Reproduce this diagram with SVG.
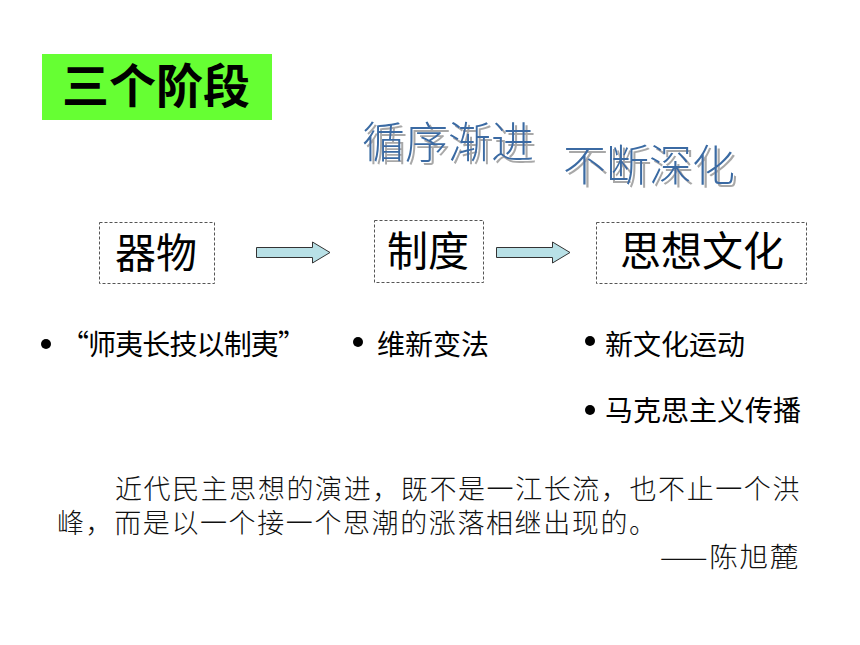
<svg xmlns="http://www.w3.org/2000/svg" width="860" height="645" viewBox="0 0 860 645">
<defs>
<style>
.cjk{font-family:"Noto Sans CJK SC","Noto Sans",sans-serif;}
.box{fill:none;stroke:#555;stroke-width:1;stroke-dasharray:3,2;}
.lbl{font-size:41px;fill:#000;}
.bul{font-size:28px;fill:#000;}
.quote{font-size:27px;fill:#111;font-weight:300;letter-spacing:1.6px;}
.blue{font-size:43px;fill:#3A6BA3;font-weight:300;filter:url(#shadow);}
.arrow{fill:#B8E0E6;stroke:#333;stroke-width:1;}
.dot{fill:#000;}
</style>
<filter id="shadow" x="-10%" y="-20%" width="130%" height="150%">
<feFlood flood-color="#A8A8A8" result="g"/>
<feComposite in="g" in2="SourceAlpha" operator="in" result="s"/>
<feOffset in="s" dx="3" dy="3" result="o"/>
<feMerge><feMergeNode in="o"/><feMergeNode in="SourceGraphic"/></feMerge>
</filter>
</defs>
<rect width="860" height="645" fill="#fff"/>

<g id="title">
<rect x="42" y="54" width="230" height="66" fill="#66FF33"/>
<text class="cjk" x="62" y="103" font-size="47" font-weight="bold" fill="#000">三个阶段</text>
</g>

<g id="slogan1">
<text class="cjk blue" x="362" y="158">循序渐进</text>
</g>
<g id="slogan2">
<text class="cjk blue" x="563" y="181">不断深化</text>
</g>

<g id="node-qiwu">
<rect class="box" x="99.5" y="222.5" width="115" height="61"/>
<text class="cjk lbl" x="115" y="268">器物</text>
</g>
<g id="node-zhidu">
<rect class="box" x="374.5" y="220.5" width="109" height="62"/>
<text class="cjk lbl" x="387" y="266">制度</text>
</g>
<g id="node-sixiang">
<rect class="box" x="596.5" y="222.5" width="210" height="61"/>
<text class="cjk lbl" x="620" y="266">思想文化</text>
</g>

<g id="connectors">
<path class="arrow" d="M256.5,247.5 H312.5 V242 L330,252.5 L312.5,263 V257.5 H256.5 Z"/>
<path class="arrow" d="M496.5,247.5 H552.5 V242 L570,252.5 L552.5,263 V257.5 H496.5 Z"/>
</g>

<g id="bullet1">
<circle class="dot" cx="46" cy="344" r="5"/>
<text class="cjk bul" x="61" y="355" textLength="245" lengthAdjust="spacing">“师夷长技以制夷”</text>
</g>
<g id="bullet2">
<circle class="dot" cx="358" cy="342" r="5"/>
<text class="cjk bul" x="377" y="355">维新变法</text>
</g>
<g id="bullet3">
<circle class="dot" cx="590" cy="341" r="5"/>
<text class="cjk bul" x="605" y="355">新文化运动</text>
</g>
<g id="bullet4">
<circle class="dot" cx="590" cy="410" r="5"/>
<text class="cjk bul" x="605" y="421">马克思主义传播</text>
</g>

<g id="quote">
<text class="cjk quote" x="115" y="499" textLength="686" lengthAdjust="spacing">近代民主思想的演进，既不是一江长流，也不止一个洪</text>
<text class="cjk quote" x="57" y="533">峰，而是以一个接一个思潮的涨落相继出现的。</text>
<text class="cjk quote" x="660" y="567" textLength="140" lengthAdjust="spacingAndGlyphs">——陈旭麓</text>
</g>
</svg>
